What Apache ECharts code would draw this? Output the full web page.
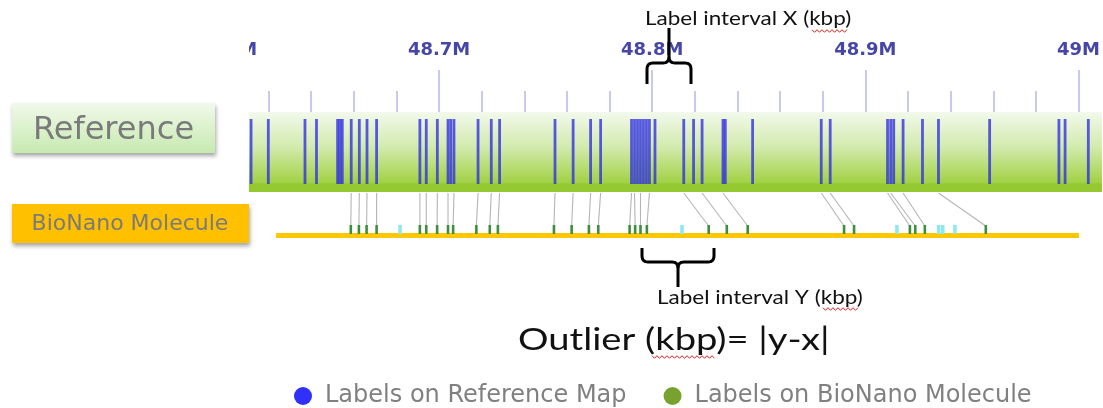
<!DOCTYPE html>
<html>
<head>
<meta charset="utf-8">
<title>Reference vs BioNano molecule</title>
<script src="https://cdn.jsdelivr.net/npm/echarts@6/dist/echarts.min.js"></script>
<style>
  html, body { margin: 0; padding: 0; background: #fff; }
  #chart { width: 1103px; height: 408px; }
</style>
</head>
<body>
<div id="chart"></div>
<script>
// positions are in Mbp on chromosome
var axisMin = 48.6, axisMax = 49.011;
var majorTicks = [48.6, 48.7, 48.8, 48.9, 49.0];
var minorTicks = [48.62, 48.64, 48.66, 48.68, 48.72, 48.74, 48.76, 48.78,
                  48.82, 48.84, 48.86, 48.88, 48.92, 48.94, 48.96, 48.98];

var refSpan = [48.6108, 49.011];
var refLabels = [48.6118, 48.6199, 48.6371, 48.6425, 48.6524, 48.6535, 48.6546, 48.6588,
                 48.6626, 48.6662, 48.6707, 48.6910, 48.6940, 48.6992, 48.7042, 48.7055,
                 48.7070, 48.7183, 48.7245, 48.7284, 48.7544, 48.7629, 48.7711, 48.7758,
                 48.7903, 48.7917, 48.7931, 48.7945, 48.7959, 48.7973, 48.7987, 48.8013,
                 48.8148, 48.8194, 48.8234, 48.8332, 48.8343, 48.8471, 48.8793, 48.8835,
                 48.9104, 48.9119, 48.9133, 48.9177, 48.9268, 48.9343, 48.9583, 48.9908,
                 48.9937, 49.0046];

var molSpan = [48.6235, 49.0002];
var molLabels = [48.6586, 48.6624, 48.6660, 48.6707, 48.6910, 48.6940, 48.6991, 48.7042,
                 48.7066, 48.7175, 48.7238, 48.7276, 48.7539, 48.7622, 48.7703, 48.7747,
                 48.7894, 48.7920, 48.7945, 48.7975, 48.8265, 48.8350, 48.8448, 48.8900,
                 48.8947, 48.9209, 48.9234, 48.9279, 48.9565];
// reference label that each molecule label is aligned to
var molMatch = [48.6588, 48.6626, 48.6662, 48.6707, 48.6910, 48.6940, 48.6992, 48.7042,
                48.7070, 48.7183, 48.7245, 48.7284, 48.7544, 48.7629, 48.7711, 48.7758,
                48.7903, 48.7917, 48.7945, 48.7987, 48.8148, 48.8234, 48.8332, 48.8793,
                48.8835, 48.9104, 48.9119, 48.9177, 48.9343];
var molUnaligned = [48.6817, 48.8140, 48.9148, 48.9344, 48.9363, 48.9420];

// track rows, in y units (px below the top of the grid)
var rows = { refTop: 0, refBottom: 80, tickTop: 7, tickBottom: 72,
             linkTop: 81, linkBottom: 114, molTop: 113, molBottom: 122, molLine: 123.5 };

var chart = echarts.init(document.getElementById('chart'));

function fmtM(v) {
  return (Math.round(v * 10) / 10).toString() + 'M';
}

function spanRect(params, api) {
  var a = api.coord([api.value(0), rows.refTop]);
  var b = api.coord([api.value(1), rows.refBottom]);
  return {
    type: 'rect',
    shape: { x: a[0], y: a[1], width: b[0] - a[0], height: b[1] - a[1] },
    style: {
      fill: new echarts.graphic.LinearGradient(0, 0, 0, 1, [
        { offset: 0, color: '#f3f9ec' },
        { offset: 0.45, color: '#d1eaab' },
        { offset: 0.88, color: '#a3d146' },
        { offset: 0.9, color: '#94c932' },
        { offset: 1, color: '#94c932' }
      ])
    }
  };
}

function refTick(params, api) {
  var a = api.coord([api.value(0), rows.tickTop]);
  var b = api.coord([api.value(0), rows.tickBottom]);
  return {
    type: 'line',
    shape: { x1: a[0], y1: a[1], x2: b[0], y2: b[1] },
    style: { stroke: 'rgba(45,45,225,0.78)', lineWidth: 2.8 }
  };
}

function linkLine(params, api) {
  var a = api.coord([api.value(0), rows.linkTop]);
  var b = api.coord([api.value(1), rows.linkBottom]);
  return {
    type: 'line',
    shape: { x1: a[0], y1: a[1], x2: b[0], y2: b[1] },
    style: { stroke: '#b5b5b5', lineWidth: 1.1 }
  };
}

function backbone(params, api) {
  var a = api.coord([api.value(0), rows.molLine]);
  var b = api.coord([api.value(1), rows.molLine]);
  return {
    type: 'line',
    shape: { x1: a[0], y1: a[1], x2: b[0], y2: b[1] },
    style: { stroke: '#fdc800', lineWidth: 5 }
  };
}

function molMark(w, color) {
  return function (params, api) {
    var a = api.coord([api.value(0), rows.molTop]);
    var b = api.coord([api.value(0), rows.molBottom]);
    return {
      type: 'rect',
      shape: { x: a[0] - w / 2, y: a[1], width: w, height: b[1] - a[1] },
      style: { fill: color }
    };
  };
}

// red spell-check squiggle under a word
function squiggle(x0, x1, y) {
  var pts = [], up = true;
  for (var x = x0; x <= x1; x += 2.5) {
    pts.push([x, up ? y - 1.3 : y + 1.3]);
    up = !up;
  }
  return { type: 'polyline', shape: { points: pts }, style: { stroke: '#e02020', lineWidth: 1, fill: null }, z: 100 };
}

// curly brace: legs at xl / xr, bar at yb, legs end at yl, stem ends at ys
function brace(xl, xr, yb, yl, ys) {
  var xm = (xl + xr) / 2, r = 6 * (yl > yb ? 1 : -1), rs = 6 * Math.sign(ys - yb);
  function corner(p0, c, p1) {
    var out = [];
    for (var t = 0; t <= 1.0001; t += 0.25) {
      out.push([(1 - t) * (1 - t) * p0[0] + 2 * t * (1 - t) * c[0] + t * t * p1[0],
                (1 - t) * (1 - t) * p0[1] + 2 * t * (1 - t) * c[1] + t * t * p1[1]]);
    }
    return out;
  }
  var left = [[xl, yl]].concat(corner([xl, yb + r], [xl, yb], [xl + 6, yb]),
                               corner([xm - 6, yb], [xm, yb], [xm, yb + rs]), [[xm, ys]]);
  var right = [[xr, yl]].concat(corner([xr, yb + r], [xr, yb], [xr - 6, yb]),
                                corner([xm + 6, yb], [xm, yb], [xm, yb + rs]));
  var st = { stroke: '#000', lineWidth: 3, fill: null, lineJoin: 'round' };
  return [{ type: 'polyline', shape: { points: left }, style: st, z: 100 },
          { type: 'polyline', shape: { points: right }, style: st, z: 100 }];
}

function note(text, x, y, size, sx) {
  return { type: 'text', x: x, y: y, scaleX: sx, z: 100,
           style: { text: text, fill: '#111', font: size + 'px Lato', verticalAlign: 'middle' } };
}

var option = {
  animation: false,
  grid: { left: 225.9, right: 0, top: 112, height: 128 },
  xAxis: [{
    type: 'value', min: axisMin, max: axisMax, position: 'top',
    axisLine: { show: false }, splitLine: { show: false },
    axisTick: { show: true, customValues: majorTicks, length: 42,
                lineStyle: { color: '#c9c9ec', width: 2 } },
    axisLabel: { customValues: majorTicks, formatter: fmtM, margin: 53,
                 color: '#4646a8', fontFamily: 'DejaVu Sans', fontWeight: 'bold', fontSize: 18 }
  }, {
    type: 'value', min: axisMin, max: axisMax, position: 'top',
    axisLine: { show: false }, splitLine: { show: false },
    axisTick: { show: true, customValues: minorTicks, length: 21,
                lineStyle: { color: '#c9c9ec', width: 2 } },
    axisLabel: { show: false }
  }],
  yAxis: { type: 'value', min: 0, max: 128, inverse: true, show: false },
  legend: {
    left: 289, top: 379, icon: 'circle', itemWidth: 18, itemHeight: 18, itemGap: 37,
    textStyle: { color: '#808080', fontFamily: 'DejaVu Sans', fontSize: 24, padding: [0, 0, 0, 8] },
    data: ['Labels on Reference Map', 'Labels on BioNano Molecule']
  },
  series: [
    { type: 'custom', name: 'reference', renderItem: spanRect, data: [refSpan], silent: true },
    { type: 'custom', name: 'Labels on Reference Map', renderItem: refTick,
      itemStyle: { color: '#3030fa' }, data: refLabels.map(function (v) { return [v]; }) },
    { type: 'custom', name: 'alignment', renderItem: linkLine,
      data: molLabels.map(function (v, i) { return [molMatch[i], v]; }) },
    { type: 'custom', name: 'molecule', renderItem: backbone, data: [molSpan] },
    { type: 'custom', name: 'Labels on BioNano Molecule', renderItem: molMark(2.6, '#3e8e3e'),
      itemStyle: { color: '#78a22f' }, data: molLabels.map(function (v) { return [v]; }) },
    { type: 'custom', name: 'unaligned', renderItem: molMark(3.6, '#8ee9ec'),
      data: molUnaligned.map(function (v) { return [v]; }) }
  ],
  graphic: [
    // hides the part of the first tick that falls off the map
    { type: 'rect', shape: { x: 0, y: 30, width: 249, height: 82 }, style: { fill: '#fff' }, z: 100 },
    { type: 'rect', shape: { x: 12, y: 103, width: 203, height: 50 }, z: 101,
      style: {
        fill: new echarts.graphic.LinearGradient(0, 0, 0, 1, [
          { offset: 0, color: '#f1f9ea' }, { offset: 1, color: '#c6eab0' }]),
        shadowBlur: 4, shadowOffsetX: 1, shadowOffsetY: 3, shadowColor: 'rgba(0,0,0,0.35)'
      } },
    { type: 'text', x: 113.5, y: 130.5, z: 102,
      style: { text: 'Reference', fill: '#7a7a7a', font: '32px "DejaVu Sans"', align: 'center', verticalAlign: 'middle' } },
    { type: 'rect', shape: { x: 12, y: 204, width: 237, height: 39 }, z: 101,
      style: { fill: '#ffc000', shadowBlur: 4, shadowOffsetX: 1, shadowOffsetY: 3, shadowColor: 'rgba(0,0,0,0.35)' } },
    { type: 'text', x: 130, y: 224.5, z: 102,
      style: { text: 'BioNano Molecule', fill: '#7a7a7a', font: '22px "DejaVu Sans"', align: 'center', verticalAlign: 'middle' } },

    note('Label interval X (kbp)', 645, 19, 20, 1.125),
    note('Label interval Y (kbp)', 657, 298, 19, 1.185),
    note('Outlier (kbp)= |y-x|', 518, 340, 31, 1.23),
    squiggle(812, 849, 31),
    squiggle(823, 859, 309),
    squiggle(652, 715, 357)
  ].concat(brace(647, 691, 63, 84, 28), brace(642, 714, 262, 248, 287))
};

chart.setOption(option);
</script>
</body>
</html>
